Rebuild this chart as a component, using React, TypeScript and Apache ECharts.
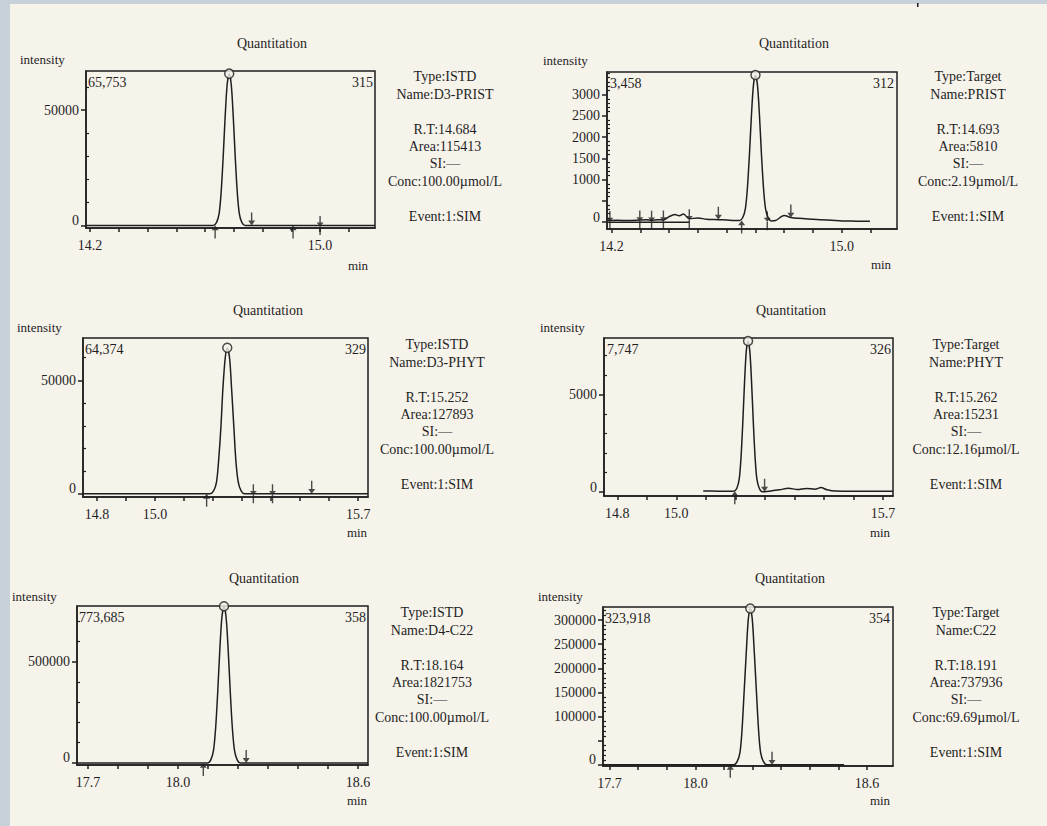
import { useEffect, useRef } from 'react';
import * as echarts from 'echarts';

const SERIF = '"Liberation Serif", "Times New Roman", serif';
const INK = '#1f1f1f';
const PAPER = '#f6f3eb';
const BAND = '#c6d1d9';

// ---------------- data ----------------
// Panel 1: D3-PRIST (ISTD)
const p1Time = [14.186, 14.3, 14.45, 14.6, 14.629, 14.64, 14.649, 14.656, 14.663, 14.67, 14.677, 14.684, 14.691, 14.698, 14.705, 14.712, 14.719, 14.728, 14.739, 14.8, 14.95, 15.1, 15.191];
const p1Int = [0, 0, 0, 0, 0, 1315, 5260, 14466, 29589, 47342, 61150, 65753, 61150, 47342, 29589, 14466, 5260, 1315, 0, 0, 0, 0, 0];
const p1Peak = [14.684, 65753];
const p1Markers: [number, number, string][] = [[14.635, 0, 'up'], [14.762, 0, 'down'], [14.906, 0, 'up'], [15.0, 0, 'cross']];

// Panel 2: PRIST (Target)
const p2Time = [14.186, 14.22, 14.26, 14.298, 14.32, 14.339, 14.36, 14.38, 14.4, 14.42, 14.435, 14.45, 14.47, 14.5, 14.53, 14.571, 14.6, 14.63, 14.645, 14.656, 14.665, 14.672, 14.679, 14.686, 14.693, 14.7, 14.707, 14.714, 14.721, 14.728, 14.735, 14.744, 14.755, 14.77, 14.79, 14.8, 14.823, 14.85, 14.9, 14.95, 15.0, 15.05, 15.098];
const p2Int = [40, 45, 40, 50, 55, 45, 60, 50, 130, 180, 150, 190, 80, 100, 70, 60, 50, 40, 40, 110, 320, 800, 1580, 2500, 3220, 3458, 3220, 2500, 1580, 800, 320, 110, 30, 40, 130, 160, 110, 90, 70, 50, 30, 25, 20];
const p2Peak = [14.7, 3458];
const p2BaseTime = [14.186, 14.47];
const p2BaseInt = [0, 0];
const p2Markers: [number, number, string][] = [[14.194, 40, 'cross'], [14.298, 50, 'cross'], [14.339, 45, 'cross'], [14.38, 50, 'cross'], [14.47, 80, 'cross'], [14.571, 60, 'down'], [14.652, 40, 'up'], [14.741, 35, 'cross'], [14.823, 110, 'down']];

// Panel 3: D3-PHYT (ISTD)
const p3Time = [14.752, 14.9, 15.05, 15.15, 15.189, 15.202, 15.212, 15.219, 15.227, 15.234, 15.242, 15.249, 15.257, 15.264, 15.272, 15.279, 15.287, 15.297, 15.309, 15.4, 15.55, 15.734];
const p3Int = [0, 0, 0, 0, 0, 1287, 5150, 14162, 28968, 46349, 59868, 64374, 59868, 46349, 28968, 14162, 5150, 1287, 0, 0, 0, 0];
const p3Peak = [15.249, 64374];
const p3Markers: [number, number, string][] = [[15.178, 0, 'up'], [15.339, 0, 'cross'], [15.405, 0, 'cross'], [15.54, 0, 'down']];

// Panel 4: PHYT (Target)
const p4Time = [15.091, 15.12, 15.15, 15.18, 15.195, 15.205, 15.213, 15.219, 15.225, 15.231, 15.237, 15.243, 15.249, 15.255, 15.261, 15.267, 15.273, 15.281, 15.291, 15.3, 15.32, 15.35, 15.38, 15.41, 15.44, 15.47, 15.49, 15.51, 15.54, 15.6, 15.734];
const p4Int = [50, 50, 45, 40, 50, 200, 660, 1740, 3510, 5600, 7230, 7747, 7230, 5600, 3510, 1740, 660, 200, 20, 20, 60, 120, 200, 130, 190, 150, 230, 120, 50, 40, 40];
const p4Peak = [15.243, 7747];
const p4Markers: [number, number, string][] = [[15.198, 45, 'up'], [15.299, 20, 'down']];

// Panel 5: D4-C22 (ISTD)
const p5Time = [17.663, 17.8, 17.95, 18.05, 18.098, 18.109, 18.118, 18.125, 18.132, 18.139, 18.146, 18.153, 18.16, 18.167, 18.174, 18.181, 18.188, 18.197, 18.208, 18.3, 18.45, 18.633];
const p5Int = [0, 0, 0, 0, 0, 15474, 61895, 170211, 348158, 557053, 719527, 773685, 719527, 557053, 348158, 170211, 61895, 15474, 0, 0, 0, 0];
const p5Peak = [18.153, 773685];
const p5Markers: [number, number, string][] = [[18.084, 0, 'up'], [18.227, 0, 'down']];

// Panel 6: C22 (Target)
const p6Time = [17.677, 17.85, 18.0, 18.1, 18.134, 18.146, 18.156, 18.163, 18.17, 18.178, 18.185, 18.192, 18.199, 18.206, 18.214, 18.221, 18.228, 18.238, 18.25, 18.35, 18.52];
const p6Int = [0, 0, 0, 0, 0, 6478, 25913, 71262, 145763, 233221, 301244, 323918, 301244, 233221, 145763, 71262, 25913, 6478, 0, 0, 0];
const p6Peak = [18.192, 323918];
const p6Markers: [number, number, string][] = [[18.122, 0, 'up'], [18.268, 0, 'down']];

// axis ticks / labels
const xTicksA = [14.2, 14.3, 14.4, 14.5, 14.6, 14.7, 14.8, 14.9, 15.0, 15.1];
const xLabelsA = [14.2, 15.0];
const xTicksB = [14.8, 14.9, 15.0, 15.1, 15.2, 15.3, 15.4, 15.5, 15.6, 15.7];
const xLabelsB = [14.8, 15.0, 15.7];
const xTicksC = [17.7, 17.8, 17.9, 18.0, 18.1, 18.2, 18.3, 18.4, 18.5, 18.6];
const xLabelsC = [17.7, 18.0, 18.6];

const p1YLabels = [0, 50000];
const p2YLabels = [0, 1000, 1500, 2000, 2500, 3000];
const p2YMajor = [0, 500, 1000, 1500, 2000, 2500, 3000];
const p3YLabels = [0, 50000];
const p4YLabels = [0, 5000];
const p5YLabels = [0, 500000];
const p6YLabels = [0, 100000, 150000, 200000, 250000, 300000];
const p6YMajor = [0, 50000, 100000, 150000, 200000, 250000, 300000];

// info texts
const p1Info = ['Type:ISTD', 'Name:D3-PRIST', '', 'R.T:14.684', 'Area:115413', 'SI:—', 'Conc:100.00µmol/L', '', 'Event:1:SIM'];
const p2Info = ['Type:Target', 'Name:PRIST', '', 'R.T:14.693', 'Area:5810', 'SI:—', 'Conc:2.19µmol/L', '', 'Event:1:SIM'];
const p3Info = ['Type:ISTD', 'Name:D3-PHYT', '', 'R.T:15.252', 'Area:127893', 'SI:—', 'Conc:100.00µmol/L', '', 'Event:1:SIM'];
const p4Info = ['Type:Target', 'Name:PHYT', '', 'R.T:15.262', 'Area:15231', 'SI:—', 'Conc:12.16µmol/L', '', 'Event:1:SIM'];
const p5Info = ['Type:ISTD', 'Name:D4-C22', '', 'R.T:18.164', 'Area:1821753', 'SI:—', 'Conc:100.00µmol/L', '', 'Event:1:SIM'];
const p6Info = ['Type:Target', 'Name:C22', '', 'R.T:18.191', 'Area:737936', 'SI:—', 'Conc:69.69µmol/L', '', 'Event:1:SIM'];

const cornerLeft = ['65,753', '3,458', '64,374', '7,747', '773,685', '323,918'];
const cornerRight = ['315', '312', '329', '326', '358', '354'];

// --------------- helpers ---------------
function steps(a: number, b: number, s: number, skip: number[]) {
  const out: number[] = [];
  for (let v = a; v <= b + 1e-9; v += s) {
    const r = Math.round(v);
    if (!skip.includes(r)) out.push(r);
  }
  return out;
}
const zip = (a: number[], b: number[]) => a.map((v, i) => [v, b[i]]);

const ARROW_UP = 'path://M5 0 L9 6 L5.8 6 L5.8 16 L4.2 16 L4.2 6 L1 6 Z';
const ARROW_DOWN = 'path://M5 16 L9 10 L5.8 10 L5.8 0 L4.2 0 L4.2 10 L1 10 Z';
const ARROW_CROSS = 'path://M4.2 0 L5.8 0 L5.8 7 L9 7 L5 11 L1 7 L4.2 7 Z M4.2 11 L5.8 11 L5.8 20 L4.2 20 Z';

function markerItem(m: [number, number, string]) {
  if (m[2] === 'up') return { value: [m[0], m[1]], symbol: ARROW_UP, symbolSize: [7, 13], symbolOffset: [0, 6.5] };
  if (m[2] === 'down') return { value: [m[0], m[1]], symbol: ARROW_DOWN, symbolSize: [7, 13], symbolOffset: [0, -6.5] };
  return { value: [m[0], m[1]], symbol: ARROW_CROSS, symbolSize: [7, 19], symbolOffset: [0, 0] };
}

const panels = [
  {
    box: [86, 71, 289, 157], x: [14.186, 15.191], y: [-1100, 66900],
    xTicks: xTicksA, xLabels: xLabelsA, yMajor: p1YLabels, yLabels: p1YLabels,
    yMinor: steps(10000, 60000, 10000, p1YLabels),
    time: p1Time, inten: p1Int, peak: p1Peak, markers: p1Markers, base: null as null | number[][],
    title: [272, 43], intensity: [20, 59], min: [358, 265], cornerY: 82, cornerL: 88, cornerR: 373, info: p1Info, infoAt: [445, 77],
  },
  {
    box: [607, 72, 290, 157], x: [14.184, 15.192], y: [-160, 3530],
    xTicks: xTicksA, xLabels: xLabelsA, yMajor: p2YMajor, yLabels: p2YLabels,
    yMinor: steps(100, 3500, 100, p2YMajor),
    time: p2Time, inten: p2Int, peak: p2Peak, markers: p2Markers, base: zip(p2BaseTime, p2BaseInt),
    title: [794, 43], intensity: [543, 60], min: [881, 264], cornerY: 83, cornerL: 610, cornerR: 894, info: p2Info, infoAt: [968, 77],
  },
  {
    box: [83, 338, 285, 159], x: [14.752, 15.734], y: [-1400, 68700],
    xTicks: xTicksB, xLabels: xLabelsB, yMajor: p3YLabels, yLabels: p3YLabels,
    yMinor: steps(10000, 60000, 10000, p3YLabels),
    time: p3Time, inten: p3Int, peak: p3Peak, markers: p3Markers, base: null,
    title: [268, 310], intensity: [17, 327], min: [357, 532], cornerY: 349, cornerL: 85, cornerR: 366, info: p3Info, infoAt: [437, 345],
  },
  {
    box: [604, 338, 289, 158], x: [14.755, 15.734], y: [-200, 7900],
    xTicks: xTicksB, xLabels: xLabelsB, yMajor: p4YLabels, yLabels: p4YLabels,
    yMinor: steps(1000, 7000, 1000, p4YLabels),
    time: p4Time, inten: p4Int, peak: p4Peak, markers: p4Markers, base: null,
    title: [791, 310], intensity: [540, 327], min: [880, 532], cornerY: 349, cornerL: 607, cornerR: 891, info: p4Info, infoAt: [966, 345],
  },
  {
    box: [77, 606, 291, 159], x: [17.663, 18.633], y: [-9900, 775000],
    xTicks: xTicksC, xLabels: xLabelsC, yMajor: p5YLabels, yLabels: p5YLabels,
    yMinor: steps(100000, 700000, 100000, p5YLabels),
    time: p5Time, inten: p5Int, peak: p5Peak, markers: p5Markers, base: null,
    title: [264, 578], intensity: [12, 596], min: [357, 800], cornerY: 617, cornerL: 79, cornerR: 366, info: p5Info, infoAt: [432, 613],
  },
  {
    box: [603, 607, 290, 159], x: [17.677, 18.691], y: [-2500, 327000],
    xTicks: xTicksC, xLabels: xLabelsC, yMajor: p6YMajor, yLabels: p6YLabels,
    yMinor: steps(10000, 320000, 10000, p6YMajor),
    time: p6Time, inten: p6Int, peak: p6Peak, markers: p6Markers, base: null,
    title: [790, 578], intensity: [538, 596], min: [880, 800], cornerY: 618, cornerL: 605, cornerR: 890, info: p6Info, infoAt: [966, 613],
  },
];

const FS = 14;

function txt(x: number, y: number, text: string, align = 'center', size = FS, extra: any = {}) {
  return {
    type: 'text', x, y, silent: true, z: 10,
    style: { text, fill: INK, font: `${size}px ${SERIF}`, textAlign: align, textVerticalAlign: 'middle', ...extra },
  };
}

function buildOption() {
  const grid: any[] = [];
  const xAxis: any[] = [];
  const yAxis: any[] = [];
  const series: any[] = [];
  const graphic: any[] = [
    { type: 'rect', silent: true, z: 0, shape: { x: 0, y: 0, width: 10, height: 826 }, style: { fill: BAND } },
    { type: 'rect', silent: true, z: 0, shape: { x: 0, y: 0, width: 1047, height: 4 }, style: { fill: BAND } },
    { type: 'rect', silent: true, z: 0, shape: { x: 917, y: 3, width: 1.5, height: 4 }, style: { fill: INK } },
  ];
  const lineStyle = { color: INK, width: 1.5 };
  const labelBase = { color: INK, fontFamily: SERIF, fontSize: FS };

  panels.forEach((p, i) => {
    const [l, t, w, h] = p.box;
    grid.push({ left: l, top: t, width: w, height: h, show: true, borderColor: INK, borderWidth: 1.5, backgroundColor: 'transparent' });
    xAxis.push({
      gridIndex: i, type: 'value', min: p.x[0], max: p.x[1],
      axisLine: { show: true, onZero: false, lineStyle },
      axisTick: { show: true, customValues: p.xTicks, length: 4, lineStyle },
      axisLabel: { show: true, customValues: p.xLabels, margin: 10, formatter: (v: number) => v.toFixed(1), ...labelBase },
      splitLine: { show: false },
    });
    yAxis.push({
      gridIndex: i, type: 'value', position: 'left', min: p.y[0], max: p.y[1],
      axisLine: { show: true, onZero: false, lineStyle },
      axisTick: { show: true, customValues: p.yMajor, length: 5, lineStyle },
      axisLabel: {
        show: true, customValues: p.yLabels, margin: 7,
        formatter: (v: number) => (v === 0 ? '{z|0}' : String(v)),
        rich: { z: { ...labelBase, padding: [0, 0, 10, 0] } },
        ...labelBase,
      },
      splitLine: { show: false },
    });
    yAxis.push({
      gridIndex: i, type: 'value', position: 'left', offset: 0, min: p.y[0], max: p.y[1],
      axisLine: { show: false, onZero: false },
      axisTick: { show: true, customValues: p.yMinor, length: 3, inside: true, lineStyle: { color: INK, width: 1.2 } },
      axisLabel: { show: false },
      splitLine: { show: false },
    });
    const yi = 2 * i;
    series.push({
      type: 'line', xAxisIndex: i, yAxisIndex: yi, data: zip(p.time, p.inten),
      showSymbol: false, smooth: 0.3, lineStyle: { color: INK, width: 1.5 }, silent: true, z: 3,
    });
    if (p.base) {
      series.push({
        type: 'line', xAxisIndex: i, yAxisIndex: yi, data: p.base,
        showSymbol: false, lineStyle: { color: INK, width: 1.4 }, silent: true, z: 3,
      });
    }
    series.push({
      type: 'scatter', xAxisIndex: i, yAxisIndex: yi, data: [p.peak], symbol: 'circle', symbolSize: 9,
      itemStyle: { color: PAPER, borderColor: INK, borderWidth: 1.5 }, silent: true, z: 5,
    });
    series.push({
      type: 'scatter', xAxisIndex: i, yAxisIndex: yi, data: p.markers.map(markerItem),
      itemStyle: { color: INK }, silent: true, z: 4,
    });

    graphic.push(txt(p.title[0], p.title[1], 'Quantitation', 'center', FS));
    graphic.push(txt(p.intensity[0], p.intensity[1], 'intensity', 'left', FS - 1));
    graphic.push(txt(p.min[0], p.min[1], 'min', 'center', FS - 1));
    graphic.push(txt(p.cornerL, p.cornerY, cornerLeft[i], 'left', FS));
    graphic.push(txt(p.cornerR, p.cornerY, cornerRight[i], 'right', FS));
    graphic.push({
      type: 'text', x: p.infoAt[0], y: p.infoAt[1] - 8.7, silent: true, z: 10,
      style: {
        text: p.info.join('\n'), fill: INK, font: `${FS}px ${SERIF}`,
        textAlign: 'center', textVerticalAlign: 'top', lineHeight: 17.4,
      },
    });
  });

  return {
    animation: false,
    backgroundColor: PAPER,
    grid, xAxis, yAxis, series, graphic,
  };
}

export default function App() {
  const ref = useRef<HTMLDivElement>(null);
  useEffect(() => {
    document.body.style.margin = '0';
    document.body.style.overflow = 'hidden';
    if (!ref.current) return;
    const chart = echarts.init(ref.current, undefined, { renderer: 'svg' });
    chart.setOption(buildOption() as any);
    return () => chart.dispose();
  }, []);
  return <div ref={ref} style={{ position: 'absolute', left: 0, top: 0, width: 1047, height: 826 }} />;
}
